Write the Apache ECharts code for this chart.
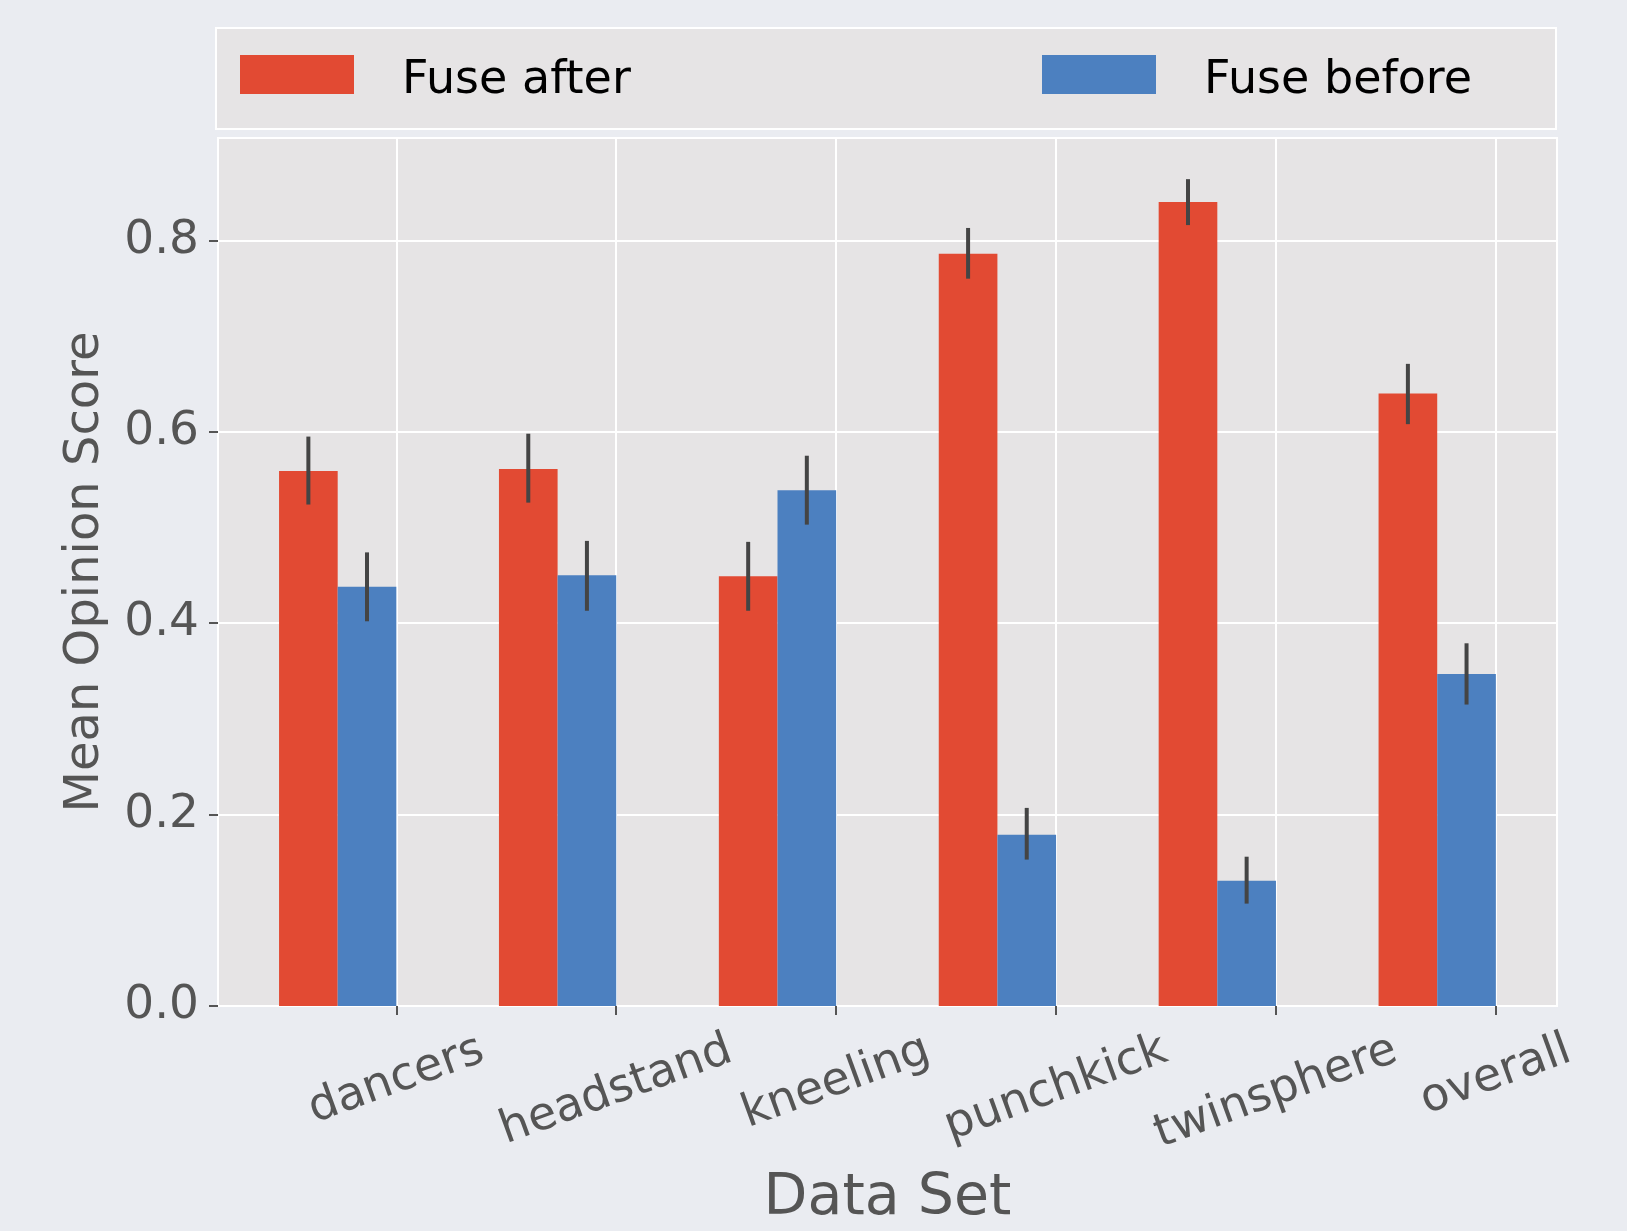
<!DOCTYPE html>
<html>
<head>
<meta charset="utf-8">
<script src="https://cdn.jsdelivr.net/npm/echarts@6/dist/echarts.min.js"></script>
<style>
  html, body { margin: 0; padding: 0; background: #EAECF1; }
  #chart { width: 1627px; height: 1231px; }
</style>
</head>
<body>
<div id="chart"></div>
<script>
// data
const categories = ['dancers', 'headstand', 'kneeling', 'punchkick', 'twinsphere', 'overall']
const fuseAfter = [0.559, 0.561, 0.449, 0.786, 0.840, 0.640]
const fuseAfterLow = [0.524, 0.526, 0.413, 0.760, 0.816, 0.608]
const fuseAfterHigh = [0.595, 0.598, 0.485, 0.813, 0.864, 0.671]
const fuseBefore = [0.438, 0.450, 0.539, 0.179, 0.131, 0.347]
const fuseBeforeLow = [0.402, 0.413, 0.503, 0.153, 0.107, 0.315]
const fuseBeforeHigh = [0.474, 0.486, 0.575, 0.207, 0.156, 0.379]
const yTicks = [0, 0.2, 0.4, 0.6, 0.8]

const FONT = 'DejaVu Sans'
const RED = '#E24A33'
const BLUE = '#4C80C0'
const GREY_TEXT = '#555555'
const BAR_W = 0.2667
const XLAB_SIZE = 46
const ROT = 20 * Math.PI / 180

const chart = echarts.init(document.getElementById('chart'), null, { renderer: 'canvas' })

// bar offset relative to the tick: red bar sits left of blue, blue ends at the tick
function barData(values, offset) {
  return values.map((v, i) => [i + offset, v])
}

function errData(low, high, offset) {
  return low.map((l, i) => [i + offset, l, high[i]])
}

function renderBar(params, api) {
  const x = api.value(0)
  const y = api.value(1)
  const p1 = api.coord([x - BAR_W / 2, y])
  const p2 = api.coord([x + BAR_W / 2, 0])
  return {
    type: 'rect',
    shape: { x: p1[0], y: p1[1], width: p2[0] - p1[0], height: p2[1] - p1[1] },
    style: { fill: api.visual('color') }
  }
}

function renderErr(params, api) {
  const x = api.value(0)
  const a = api.coord([x, api.value(1)])
  const b = api.coord([x, api.value(2)])
  return {
    type: 'line',
    shape: { x1: a[0], y1: a[1], x2: b[0], y2: b[1] },
    style: { stroke: '#444444', lineWidth: 4 }
  }
}

// rotated tick labels: push longer labels further down (like matplotlib does)
// by padding each rich token so the text centre drops straight down
const measure = document.createElement('canvas').getContext('2d')
measure.font = XLAB_SIZE + 'px "' + FONT + '"'
const xRich = {}
categories.forEach((c, i) => {
  const d = measure.measureText(c).width * Math.sin(ROT) / 2
  xRich['l' + i] = {
    fontFamily: FONT,
    fontSize: XLAB_SIZE,
    color: GREY_TEXT,
    padding: [2 * d * Math.cos(ROT), 2 * d * Math.sin(ROT), 0, 0]
  }
})

const tickIdx = categories.map((c, i) => i)

// legend text sits a little below the swatch centre
const legendText = {
  fontFamily: FONT, fontSize: 46, color: '#000', padding: [0, 0, 0, 43],
  rich: { t: { fontFamily: FONT, fontSize: 46, color: '#000', padding: [14, 0, 0, 0] } }
}

const option = {
  backgroundColor: '#EAECF1',
  animation: false,
  textStyle: { fontFamily: FONT },
  graphic: [{
    type: 'rect',
    shape: { x: 216, y: 28, width: 1340, height: 101 },
    style: { fill: '#E6E4E5', stroke: '#FFFFFF', lineWidth: 2 },
    z: -1
  }],
  legend: [{
    data: ['Fuse after'],
    left: 240, top: 55,
    padding: 0,
    icon: 'rect',
    itemWidth: 114, itemHeight: 39,
    formatter: '{t|{name}}',
    textStyle: legendText
  }, {
    data: ['Fuse before'],
    left: 1042, top: 55,
    padding: 0,
    icon: 'rect',
    itemWidth: 114, itemHeight: 39,
    formatter: '{t|{name}}',
    textStyle: legendText
  }],
  grid: {
    left: 218, right: 70, top: 138, bottom: 225,
    containLabel: false,
    outerBoundsMode: 'none',
    show: true,
    backgroundColor: '#E6E4E5',
    borderColor: '#FFFFFF',
    borderWidth: 2
  },
  xAxis: {
    type: 'value',
    min: -0.811,
    max: 5.278,
    name: 'Data Set',
    nameLocation: 'middle',
    nameGap: 193,
    nameTextStyle: { fontFamily: FONT, fontSize: 57, color: GREY_TEXT, verticalAlign: 'middle' },
    axisLine: { show: false, onZero: false },
    axisTick: {
      show: true, customValues: tickIdx, length: 9,
      lineStyle: { color: GREY_TEXT, width: 2 }
    },
    axisLabel: {
      customValues: tickIdx,
      formatter: v => {
        const i = Math.round(v)
        return '{l' + i + '|' + categories[i] + '}'
      },
      rich: xRich,
      rotate: 20,
      align: 'center',
      verticalAlign: 'middle',
      margin: 43,
      fontFamily: FONT,
      fontSize: XLAB_SIZE,
      color: GREY_TEXT
    },
    splitLine: { show: true, lineStyle: { color: '#FFFFFF', width: 2 } }
  },
  yAxis: {
    type: 'value',
    min: 0,
    max: 0.907,
    name: 'Mean Opinion Score',
    nameLocation: 'middle',
    nameGap: 132,
    nameRotate: 90,
    nameTextStyle: { fontFamily: FONT, fontSize: 48, color: GREY_TEXT, verticalAlign: 'middle' },
    axisLine: { show: false, onZero: false },
    axisTick: {
      show: true, customValues: yTicks, length: 9,
      lineStyle: { color: GREY_TEXT, width: 2 }
    },
    axisLabel: {
      customValues: yTicks,
      formatter: v => v.toFixed(1),
      margin: 19,
      fontFamily: FONT,
      fontSize: 47,
      color: GREY_TEXT
    },
    splitLine: { show: true, lineStyle: { color: '#FFFFFF', width: 2 } }
  },
  series: [{
    name: 'Fuse after',
    type: 'custom',
    itemStyle: { color: RED },
    renderItem: renderBar,
    data: barData(fuseAfter, -1.5 * BAR_W),
    z: 2
  }, {
    name: 'Fuse before',
    type: 'custom',
    itemStyle: { color: BLUE },
    renderItem: renderBar,
    data: barData(fuseBefore, -0.5 * BAR_W),
    z: 2
  }, {
    name: 'err after',
    type: 'custom',
    renderItem: renderErr,
    data: errData(fuseAfterLow, fuseAfterHigh, -1.5 * BAR_W),
    z: 3
  }, {
    name: 'err before',
    type: 'custom',
    renderItem: renderErr,
    data: errData(fuseBeforeLow, fuseBeforeHigh, -0.5 * BAR_W),
    z: 3
  }]
}

chart.setOption(option)
</script>
</body>
</html>
